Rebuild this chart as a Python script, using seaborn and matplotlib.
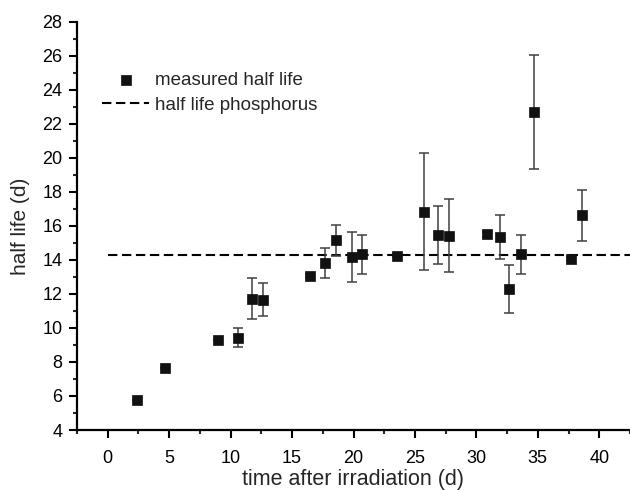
import matplotlib
matplotlib.use("Agg")
import matplotlib.pyplot as plt
from matplotlib.ticker import MultipleLocator
import seaborn as sns
import pandas as pd

# data
time_d = [2.35, 4.7, 8.98, 10.58, 11.75, 12.67, 16.44, 17.66, 18.58, 19.85,
          20.67, 23.57, 25.77, 26.88, 27.78, 30.87, 31.95, 32.66, 33.66,
          34.7, 37.7, 38.6]
half_life = [5.76, 7.66, 9.28, 9.43, 11.71, 11.67, 13.08, 13.79, 15.14, 14.18,
             14.33, 14.24, 16.84, 15.47, 15.41, 15.51, 15.35, 12.29, 14.33,
             22.69, 14.04, 16.61]
half_life_err = [0.0, 0.0, 0.0, 0.58, 1.2, 0.95, 0.1, 0.88, 0.9, 1.47,
                 1.14, 0.1, 3.43, 1.7, 2.15, 0.15, 1.27, 1.43, 1.15,
                 3.34, 0.12, 1.5]
phosphorus_half_life = 14.3
line_x = [0, 42.5]

df = pd.DataFrame({"t": time_d, "hl": half_life, "err": half_life_err})
ref = pd.DataFrame({"t": line_x, "hl": [phosphorus_half_life] * len(line_x)})

sns.set_style("ticks")
plt.rcParams["font.family"] = ["Liberation Sans", "DejaVu Sans"]

fig = plt.figure(figsize=(6.3, 4.9), dpi=100)
ax = fig.add_axes([77 / 630, 60 / 490, 553 / 630, 408.3 / 490])

ax.errorbar(df["t"], df["hl"], yerr=df["err"], fmt="none", ecolor="#404040",
            elinewidth=1.1, capsize=3.5, capthick=1.1, zorder=2)
sns.lineplot(data=ref, x="t", y="hl", ax=ax, color="black", lw=1.5,
             linestyle=(0, (4.5, 2.2)), label="half life phosphorus", zorder=1)
sns.scatterplot(data=df, x="t", y="hl", ax=ax, marker="s", s=46, color="#111111",
                edgecolor="#111111", linewidth=0.5, label="measured half life",
                zorder=3)

ax.set_xlim(-2.5, 42.5)
ax.set_ylim(4, 28)
ax.xaxis.set_major_locator(MultipleLocator(5))
ax.xaxis.set_minor_locator(MultipleLocator(2.5))
ax.yaxis.set_major_locator(MultipleLocator(2))
ax.yaxis.set_minor_locator(MultipleLocator(1))
ax.set_xticks([0, 5, 10, 15, 20, 25, 30, 35, 40])
ax.tick_params(which="major", length=5.5, width=1.5, labelsize=13, colors="black",
               pad=5)
ax.tick_params(axis="x", which="major", pad=9)
ax.tick_params(which="minor", length=3, width=1.5)
ax.set_xlabel("time after irradiation (d)", fontsize=15.5, labelpad=1)
ax.set_ylabel("half life (d)", fontsize=15, labelpad=9)
sns.despine(ax=ax)
for s in ["left", "bottom"]:
    ax.spines[s].set_linewidth(1.6)
    ax.spines[s].set_color("black")

h, l = ax.get_legend_handles_labels()
order = [l.index("measured half life"), l.index("half life phosphorus")]
ax.legend([h[i] for i in order], [l[i] for i in order], loc="upper left",
          bbox_to_anchor=(0.025, 0.905), frameon=False, fontsize=13.5,
          handlelength=2.5, handletextpad=0.3, labelspacing=0.42,
          borderaxespad=0.2)

fig.savefig("out.png", dpi=100)
